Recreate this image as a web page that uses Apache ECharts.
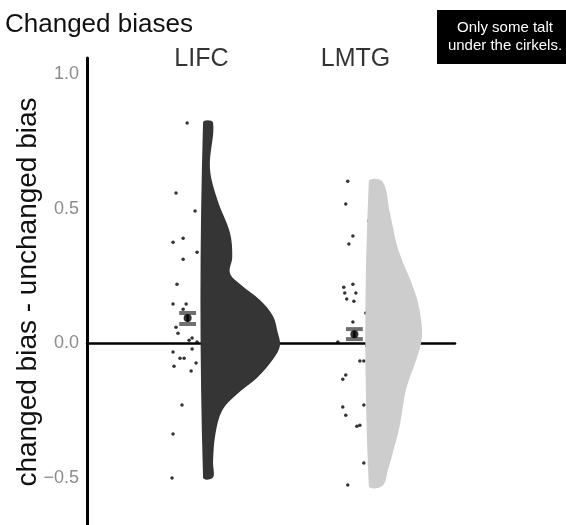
<!DOCTYPE html>
<html>
<head>
<meta charset="utf-8">
<script src="https://cdn.jsdelivr.net/npm/echarts@6/dist/echarts.min.js"></script>
<style>
  html, body { margin: 0; padding: 0; background: #fff; }
  #chart { width: 566px; height: 525px; }
</style>
</head>
<body>
<div id="chart"></div>
<script>
// groups and where they sit on the (hidden) x scale
const groups = ['LIFC', 'LMTG'];
const groupPos = [1, 2];
const labelPos = [0.99, 1.92];
const labelY = 1.056;
const violinFill = ['#353535', '#cdcdcd'];
const yTicks = [-0.5, 0, 0.5, 1.0];

// half-violin outlines: value -> relative density
const lifcDensY = [0.82, 0.65, 0.53, 0.41, 0.32, 0.26, 0.22, 0.16, 0.10, 0.04, -0.01, -0.06, -0.13, -0.19, -0.25, -0.34, -0.44, -0.50];
const lifcDens = [0.13, 0.09, 0.19, 0.35, 0.38, 0.35, 0.48, 0.74, 0.91, 0.97, 1.0, 0.91, 0.70, 0.44, 0.25, 0.16, 0.13, 0.13];
const lmtgDensY = [0.60, 0.49, 0.37, 0.31, 0.22, 0.15, 0.06, 0.0, -0.06, -0.13, -0.19, -0.31, -0.41, -0.47, -0.53];
const lmtgDens = [0.18, 0.27, 0.36, 0.43, 0.56, 0.64, 0.69, 0.68, 0.62, 0.53, 0.47, 0.40, 0.31, 0.25, 0.18];
const densWidth = 0.464;

// jittered raw points
const lifcX = [0.904, 0.837, 0.952, 0.880, 0.819, 0.964, 0.880, 0.843, 1.006, 0.819, 0.898, 0.880, 1.006, 0.837, 0.849, 0.934, 0.916, 0.964, 1.006, 0.934, 0.819, 0.861, 0.886, 0.958, 0.825, 0.928, 1.006, 0.873, 0.819, 0.813];
const lifcY = [0.818, 0.558, 0.491, 0.390, 0.375, 0.338, 0.312, 0.219, 0.178, 0.145, 0.145, 0.126, 0.104, 0.059, 0.037, 0.019, 0.011, 0.004, -0.007, -0.022, -0.033, -0.056, -0.056, -0.074, -0.086, -0.104, -0.175, -0.230, -0.338, -0.502];
const lmtgX = [1.873, 1.861, 2.0, 1.904, 1.880, 2.0, 1.904, 1.849, 1.855, 1.922, 1.867, 1.910, 1.982, 1.904, 2.0, 1.813, 1.988, 1.946, 1.970, 1.861, 1.843, 1.970, 1.843, 1.861, 1.946, 1.928, 2.006, 1.970, 1.873];
const lmtgY = [0.602, 0.517, 0.454, 0.398, 0.368, 0.338, 0.219, 0.208, 0.186, 0.186, 0.164, 0.156, 0.112, 0.078, 0.063, 0.004, -0.011, -0.067, -0.067, -0.119, -0.134, -0.230, -0.238, -0.268, -0.305, -0.309, -0.368, -0.446, -0.528];

// mean with standard error
const meanX = [0.907, 1.913];
const means = [0.093, 0.033];
const errLo = [0.071, 0.015];
const errHi = [0.112, 0.052];

const densY = [lifcDensY, lmtgDensY];
const dens = [lifcDens, lmtgDens];
const font = "'Liberation Sans', Arial, sans-serif";

const chart = echarts.init(document.getElementById('chart'));

chart.setOption({
  animation: false,
  textStyle: { fontFamily: font },
  title: {
    text: 'Changed biases',
    left: 0, top: 7,
    textStyle: { fontSize: 26, fontWeight: 'normal', color: '#111', fontFamily: font }
  },
  grid: { left: 87, top: 58, width: 368, height: 468, containLabel: false, outerBoundsMode: 'none' },
  xAxis: {
    type: 'value', min: 0.3, max: 2.52,
    axisLine: { show: true, onZero: true, lineStyle: { color: '#000', width: 2.5 } },
    axisTick: { show: false }, axisLabel: { show: false }, splitLine: { show: false }
  },
  yAxis: {
    type: 'value', min: -0.68, max: 1.06,
    name: 'changed bias - unchanged bias',
    nameLocation: 'middle', nameGap: 45, nameMoveOverlap: false,
    nameTextStyle: { fontSize: 28, color: '#111', fontFamily: font },
    axisLine: { show: true, onZero: false, lineStyle: { color: '#000', width: 3 } },
    axisTick: { show: false, customValues: yTicks }, splitLine: { show: false },
    axisLabel: {
      fontSize: 18, color: '#8c8c8c', margin: 8, fontFamily: font,
      customValues: yTicks,
      formatter: function (v) {
        return (v < 0 ? '\u2212' : '') + Math.abs(v).toFixed(1);
      }
    }
  },
  graphic: [{
    type: 'group', left: 437, top: 10,
    children: [
      { type: 'rect', shape: { x: 0, y: 0, width: 134, height: 54 }, style: { fill: '#000' } },
      { type: 'text', x: 68, y: 27, style: {
        text: 'Only some talt\nunder the cirkels.', fill: '#fff', font: '15px ' + font,
        align: 'center', verticalAlign: 'middle', lineHeight: 18 } }
    ]
  }],
  series: [
    {
      type: 'scatter', z: 1, symbolSize: 3.5, itemStyle: { color: '#000' },
      data: lifcX.map((x, i) => [x, lifcY[i]])
    },
    {
      type: 'scatter', z: 1, symbolSize: 3.5, itemStyle: { color: '#000' },
      data: lmtgX.map((x, i) => [x, lmtgY[i]])
    },
    {
      type: 'custom', z: 2,
      data: groupPos.map((p, i) => [p, densY[i][0]]),
      renderItem: function (params, api) {
        const i = params.dataIndex;
        const ys = densY[i];
        const pts = [api.coord([groupPos[i], ys[0]])];
        ys.forEach((v, k) => pts.push(api.coord([groupPos[i] + dens[i][k] * densWidth, v])));
        pts.push(api.coord([groupPos[i], ys[ys.length - 1]]));
        return { type: 'polygon', shape: { points: pts, smooth: 0.35 }, style: { fill: violinFill[i] } };
      }
    },
    {
      type: 'custom', z: 3,
      data: meanX.map((x, i) => [x, errLo[i], errHi[i]]),
      renderItem: function (params, api) {
        const x = api.value(0), lo = api.value(1), hi = api.value(2);
        const hw = 0.051;
        const t = api.coord([x, hi]), b = api.coord([x, lo]);
        const tl = api.coord([x - hw, hi]), tr = api.coord([x + hw, hi]);
        const bl = api.coord([x - hw, lo]), br = api.coord([x + hw, lo]);
        return {
          type: 'group', children: [
            { type: 'line', shape: { x1: t[0], y1: t[1], x2: b[0], y2: b[1] }, style: { stroke: '#222', lineWidth: 2.5 } },
            { type: 'line', shape: { x1: tl[0], y1: tl[1], x2: tr[0], y2: tr[1] }, style: { stroke: '#707070', lineWidth: 4 } },
            { type: 'line', shape: { x1: bl[0], y1: bl[1], x2: br[0], y2: br[1] }, style: { stroke: '#707070', lineWidth: 4 } }
          ]
        };
      }
    },
    {
      type: 'scatter', z: 4, symbolSize: 8, itemStyle: { color: '#000' },
      data: meanX.map((x, i) => [x, means[i]])
    },
    {
      type: 'scatter', z: 5, symbolSize: 0, silent: true,
      data: groups.map((g, i) => [labelPos[i], labelY]),
      label: {
        show: true, position: 'inside', fontSize: 25, color: '#000', fontFamily: font,
        formatter: p => groups[p.dataIndex]
      }
    }
  ]
});
</script>
</body>
</html>
